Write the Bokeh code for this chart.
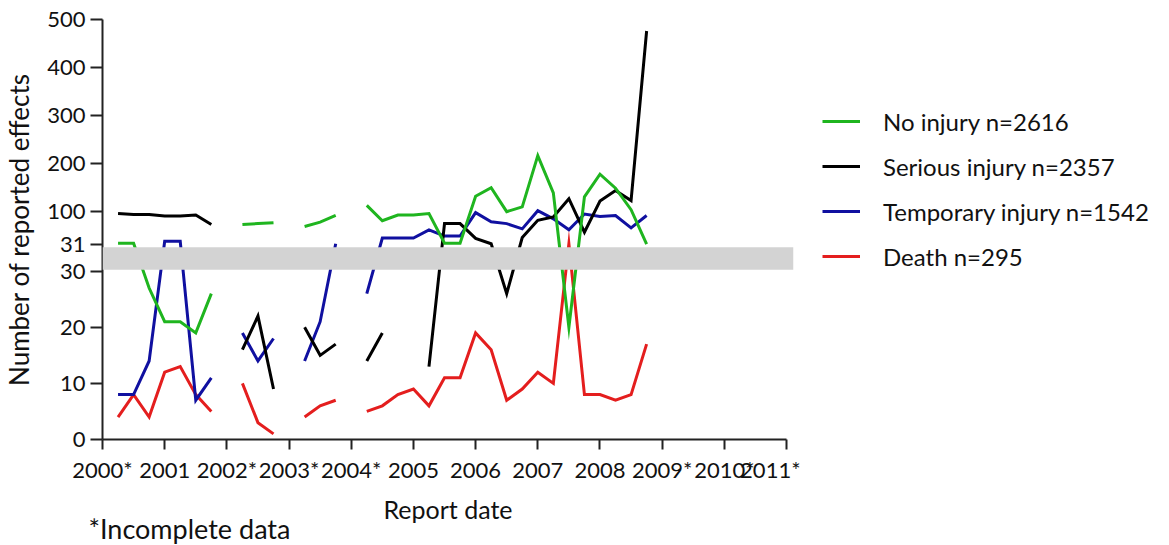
import numpy as np
from bokeh.plotting import figure
from bokeh.layouts import row
from bokeh.models import (Range1d, FixedTicker, BoxAnnotation, Legend, LegendItem,
                          ColumnDataSource, CustomJSTransform, CustomJSTickFormatter,
                          Title)
from bokeh.transform import transform
from bokeh.embed import file_html
from bokeh.resources import INLINE

nan = float("nan")

# ---------------- data ----------------
# quarterly report dates 2000 Q1 .. 2008 Q3 (plotted at end of quarter)
quarters = [2000 + 0.25 * k for k in range(1, 36)]

year_ticks = list(range(2000, 2012))
year_labels = ["2000*", "2001", "2002*", "2003*", "2004*", "2005", "2006",
               "2007", "2008", "2009*", "2010*", "2011*"]

lower_ticks = [0, 10, 20, 30]
upper_ticks = [31, 100, 200, 300, 400, 500]

no_injury = [33, 33, 27, 21, 21, 19, 26, nan,
             72, 74, 76, nan,
             68, 77, 91, nan,
             112, 80, 92, 92, 95, 33, 33, 131, 149, 99, 109, 216, 138, 20,
             130, 177, 148, 103, 31]
serious_injury = [95, 93, 93, 90, 90, 92, 72, nan,
                  16, 22, 9, nan,
                  20, 15, 17, nan,
                  14, 19, nan, nan, 13, 74, 74, 43, 32, 26, 45, 81, 88, 126,
                  56, 121, 143, 122, 476]
temporary_injury = [8, 8, 14, 37, 37, 7, 11, nan,
                    19, 14, 18, nan,
                    14, 21, 32, nan,
                    26, 44, 44, 44, 61, 48, 48, 97, 78, 74, 63, 101, 84, 61,
                    94, 89, 91, 65, 91]
death = [4, 8, 4, 12, 13, 8, 5, nan,
         10, 3, 1, nan,
         4, 6, 7, nan,
         5, 6, 8, 9, 6, 11, 11, 19, 16, 7, 9, 12, 10, 32,
         8, 8, 7, 8, 17]

series_labels = ["No injury n=2616", "Serious injury n=2357",
                 "Temporary injury n=1542", "Death n=295"]

# ---------------- broken y axis ----------------
BREAK_LO = 30      # top of lower segment
BREAK_HI = 31      # bottom of upper segment
AXIS_MAX = 500
GAP = 4.81         # gap between segments (in lower-segment units)
UPPER_SCALE = 0.0854  # upper segment compression


def to_display(v):
    return v if v <= BREAK_LO else BREAK_LO + GAP + (v - BREAK_HI) * UPPER_SCALE


brk = CustomJSTransform(
    args=dict(lo=BREAK_LO, hi=BREAK_HI, gap=GAP, s=UPPER_SCALE),
    v_func="""
    const out = new Float64Array(xs.length);
    for (let i = 0; i < xs.length; i++) {
        const v = xs[i];
        out[i] = (v <= lo) ? v : lo + gap + (v - hi) * s;
    }
    return out;
    """)

FONT = "Lato"
TXT = "#111111"
colors = {"no_injury": "#1fb51f", "serious": "#000000",
          "temporary": "#1010a0", "death": "#e41e1e"}
keys = ["no_injury", "serious", "temporary", "death"]

src = ColumnDataSource(dict(
    date=np.array(quarters, dtype=float),
    no_injury=np.array(no_injury, dtype=float),
    serious=np.array(serious_injury, dtype=float),
    temporary=np.array(temporary_injury, dtype=float),
    death=np.array(death, dtype=float),
))

TOP, BOTTOM = 19, 106

p = figure(width=800, height=545, output_backend="svg", toolbar_location=None,
           x_range=Range1d(2000, 2011.112),
           y_range=Range1d(0, to_display(AXIS_MAX)),
           min_border_left=101, min_border_right=7,
           min_border_top=TOP, min_border_bottom=BOTTOM)
p.outline_line_color = None
p.xgrid.visible = False
p.ygrid.visible = False
p.background_fill_color = "white"
p.border_fill_color = "white"

for k in ["death", "temporary", "serious", "no_injury"]:
    p.line(x="date", y=transform(k, brk), source=src,
           line_color=colors[k], line_width=3, line_join="miter")

# axes
ya = p.yaxis[0]
ya.ticker = FixedTicker(ticks=[to_display(t) for t in lower_ticks + upper_ticks])
ya.formatter = CustomJSTickFormatter(
    args=dict(lo=BREAK_LO, hi=BREAK_HI, gap=GAP, s=UPPER_SCALE),
    code="""
    if (tick <= lo + 1e-9) return String(Math.round(tick));
    return String(Math.round(hi + (tick - lo - gap) / s));
    """)
xa = p.xaxis[0]
xa.ticker = FixedTicker(ticks=year_ticks)
xa.major_label_overrides = {y: lab for y, lab in zip(year_ticks, year_labels)}
xa.bounds = (year_ticks[0], year_ticks[-1])

for ax in (xa, ya):
    ax.axis_line_width = 2
    ax.axis_line_color = "#222222"
    ax.major_tick_line_width = 2
    ax.major_tick_line_color = "#222222"
    ax.major_tick_in = 0
    ax.minor_tick_line_color = None
    ax.major_label_text_font = FONT
    ax.major_label_text_font_size = "22px"
    ax.major_label_text_color = TXT
    ax.axis_label_text_font = FONT
    ax.axis_label_text_font_style = "normal"
    ax.axis_label_text_color = TXT

ya.major_tick_out = 12
ya.major_label_standoff = 5
ya.axis_label = "Number of reported effects"
ya.axis_label_text_font_size = "26px"
ya.axis_label_standoff = 9

xa.major_tick_out = 10
xa.major_label_standoff = 6
xa.axis_label = "Report date"
xa.axis_label_text_font_size = "25px"
xa.axis_label_standoff = 8

# footnote below the x axis, left aligned
note = Title(text="*Incomplete data", align="left", vertical_align="bottom",
             offset=-14, standoff=-36, text_font=FONT, text_font_size="27px",
             text_font_style="normal", text_color=TXT)
p.add_layout(note, "below")

# grey break band
band = BoxAnnotation(bottom=BREAK_LO + 0.25, top=to_display(BREAK_HI) - 0.53,
                     fill_color="#d3d3d3", fill_alpha=1.0, line_color=None)
p.add_layout(band)

# ---------------- legend panel ----------------
q = figure(width=369, height=545, output_backend="svg", toolbar_location=None,
           x_range=Range1d(0, 1), y_range=Range1d(0, 1),
           x_axis_location=None, y_axis_location=None,
           min_border_left=22, min_border_right=0,
           min_border_top=TOP, min_border_bottom=BOTTOM)
q.outline_line_color = None
q.grid.visible = False
q.background_fill_color = "white"
q.border_fill_color = "white"

items = []
for lab, k in zip(series_labels, keys):
    # same series, outside this panel's view: only its legend swatch shows
    r = q.line(x="date", y=k, source=src, line_color=colors[k], line_width=3)
    items.append(LegendItem(label=lab, renderers=[r]))

legend = Legend(items=items, location=(0, 168), orientation="vertical",
                glyph_width=38, glyph_height=30, label_height=30,
                label_standoff=23, spacing=15, padding=0, margin=0,
                border_line_color=None, background_fill_alpha=0,
                label_text_font=FONT, label_text_font_size="24px",
                label_text_color=TXT)
q.add_layout(legend)

layout = row(p, q, spacing=0)
open("out.html", "w").write(file_html(layout, INLINE))
